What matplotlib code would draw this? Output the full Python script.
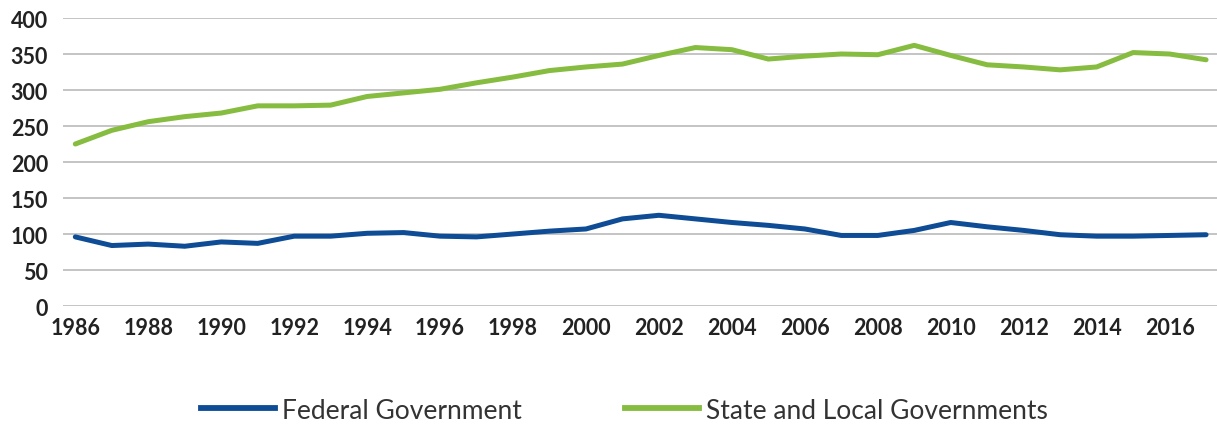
import matplotlib
matplotlib.use("Agg")
import matplotlib.pyplot as plt
from matplotlib.lines import Line2D

years = list(range(1986, 2018))
federal = [96, 84, 86, 83, 89, 87, 97, 97, 101, 102, 97, 96, 100, 104, 107, 121,
           126, 121, 116, 112, 107, 98, 98, 105, 116, 110, 105, 99, 97, 97, 98, 99]
state_local = [225, 244, 256, 263, 268, 278, 278, 279, 291, 296, 301, 310, 318, 327, 332, 336,
               348, 359, 356, 343, 347, 350, 349, 362, 348, 335, 332, 328, 332, 352, 350, 342]
series_names = ["Federal Government", "State and Local Governments"]
colors = ["#0E4C96", "#86BC3F"]
y_ticks = [0, 50, 100, 150, 200, 250, 300, 350, 400]
x_ticks = list(range(1986, 2017, 2))

fig = plt.figure(figsize=(12.17, 4.27), dpi=100)
ax = fig.add_axes([0.052, 0.281, 0.948, 0.6745])

ax.plot(years, federal, color=colors[0], lw=3.6, solid_capstyle="round", zorder=3)
ax.plot(years, state_local, color=colors[1], lw=3.6, solid_capstyle="round", zorder=3)

ax.set_ylim(0, 400)
ax.set_xlim(1985.67, 2017.3)
ax.set_yticks(y_ticks)
ax.set_xticks(x_ticks)
ax.set_xticklabels([str(x) for x in x_ticks])
ax.grid(axis="y", color="#BFBFBF", lw=1.3)
ax.set_axisbelow(True)
for s in ax.spines.values():
    s.set_visible(False)
ax.tick_params(axis="both", length=0, labelsize=15.5, labelcolor="#222222")
ax.tick_params(axis="x", pad=8)
ax.tick_params(axis="y", pad=11)
for lab in ax.get_xticklabels() + ax.get_yticklabels():
    lab.set_fontfamily("Lato")
    lab.set_fontweight("bold")

handles = [Line2D([], [], color=c, lw=4.2) for c in colors]
leg = fig.legend(handles, series_names, loc="center", bbox_to_anchor=(0.513, 0.037), ncol=2,
                 frameon=False, handlelength=2.8, handletextpad=0.27, columnspacing=3.9,
                 prop={"family": "Lato", "size": 19})
for t in leg.get_texts():
    t.set_color("#333333")

fig.savefig("out.png", dpi=100)
